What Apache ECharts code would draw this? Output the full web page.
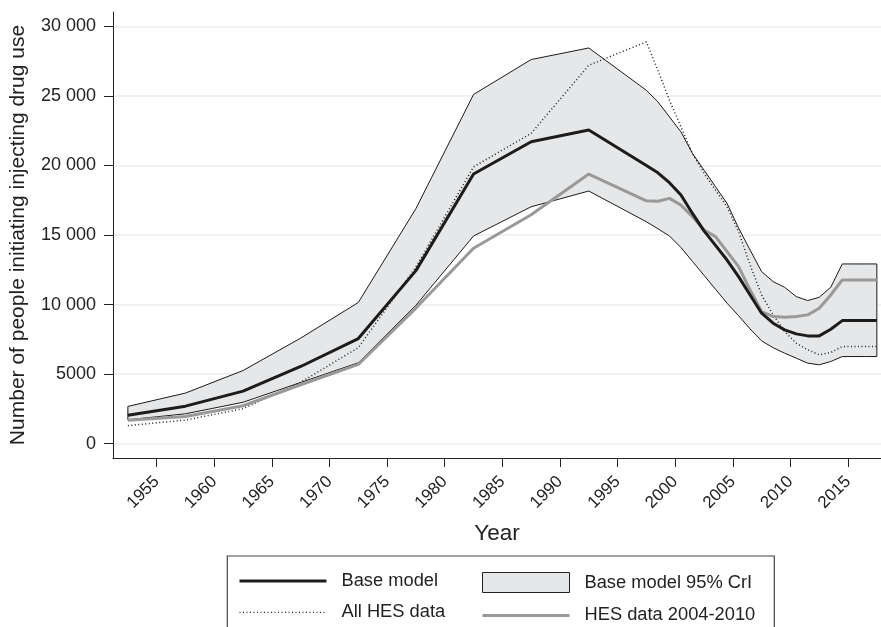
<!DOCTYPE html>
<html>
<head>
<meta charset="utf-8">
<script src="https://cdn.jsdelivr.net/npm/echarts@6/dist/echarts.min.js"></script>
<style>
html,body{margin:0;padding:0;background:#fff;}
#chart{width:881px;height:627px;}
</style>
</head>
<body>
<div id="chart"></div>
<script>
// x positions (mid-year of each period)
var years=[1952.5,1957.5,1962.5,1967.5,1972.5,1977.5,1982.5,1987.5,1992.5,1997.5,
	1998.5,1999.5,2000.5,2001.5,2002.5,2003.5,2004.5,2005.5,2006.5,2007.5,
	2008.5,2009.5,2010.5,2011.5,2012.5,2013.5,2014.5,2015.5,2016.5,2017.5];
var baseModel=[2050,2700,3780,5550,7560,12440,19380,21700,22540,20000,
	19470,18760,17870,16550,15300,14250,13200,12010,10690,9380,
	8660,8180,7895,7750,7750,8230,8850,8850,8850,8850];
var bandUpper=[2680,3640,5260,7590,10150,16900,25100,27610,28440,25400,
	24570,23490,22410,20860,19665,18470,17270,15500,13920,12370,
	11650,11245,10575,10290,10525,11245,12920,12920,12920,12920];
var bandLower=[1720,2150,2980,4400,5820,9950,14930,17030,18160,15950,
	15450,14930,14100,13100,12100,11100,10100,9200,8250,7390,
	6900,6505,6150,5790,5670,5910,6265,6265,6265,6265];
var allHes=[1300,1700,2520,4420,6900,12700,19900,22300,27200,28880,
	26840,24690,22770,20860,19425,18230,17030,15240,12850,10690,
	9260,8060,7225,6745,6390,6555,6985,6985,6985,6985];
var hes0410=[1680,1960,2730,4240,5700,9750,14050,16450,19380,17460,
	17420,17630,17150,16310,15360,14880,13800,12725,11050,9500,
	9140,9090,9140,9260,9740,10690,11770,11770,11770,11770];
var xTicks=[1955,1960,1965,1970,1975,1980,1985,1990,1995,2000,2005,2010,2015];
var yTicks=[0,5000,10000,15000,20000,25000,30000];

function pairs(vals){
	return years.map(function(y,i){return [y,vals[i]];});
}

var font='"Liberation Sans", Arial, sans-serif';
var chart=echarts.init(document.getElementById('chart'));
var legendBase={
	orient:'vertical',
	top:572,
	padding:0,
	height:80,
	itemWidth:87,
	itemHeight:20,
	itemGap:13.4,
	textStyle:{fontSize:18.3,color:'#222',fontFamily:font,padding:[0,0,0,10]}
};
var option={
	animation:false,
	textStyle:{fontFamily:font},
	grid:{left:113,top:12,right:0,bottom:169,outerBoundsMode:'none'},
	xAxis:{
		type:'value',
		min:1951.21,
		max:2017.86,
		name:'Year',
		nameLocation:'middle',
		nameGap:64,
		nameTextStyle:{fontSize:22.5,color:'#222',fontFamily:font},
		axisLine:{onZero:false,lineStyle:{color:'#222',width:1}},
		axisTick:{customValues:xTicks,length:9,lineStyle:{color:'#222'}},
		axisLabel:{
			customValues:xTicks,rotate:45,margin:21,fontSize:17,color:'#222',fontFamily:font,
			formatter:function(v){return String(v);}
		},
		splitLine:{show:false}
	},
	yAxis:{
		type:'value',
		min:-1026,
		max:31026,
		name:'Number of people initiating injecting drug use',
		nameLocation:'middle',
		nameGap:84,
		nameRotate:90,
		nameTextStyle:{fontSize:21,color:'#222',fontFamily:font},
		axisLine:{show:true,onZero:false,lineStyle:{color:'#222',width:1}},
		axisTick:{show:true,customValues:yTicks,length:9,lineStyle:{color:'#222'}},
		axisLabel:{
			customValues:yTicks,margin:17,fontSize:18,color:'#222',fontFamily:font,
			formatter:function(v){
				if(v>=10000){
					var s=String(v);
					return s.slice(0,s.length-3)+' '+s.slice(-3);
				}
				return String(v);
			}
		},
		splitLine:{show:true,lineStyle:{color:'#ececec',width:1.5}}
	},
	graphic:[{
		type:'rect',
		shape:{x:227.3,y:556,width:547,height:100},
		style:{fill:'none',stroke:'#444',lineWidth:1.2},
		silent:true
	}],
	legend:[
		Object.assign({},legendBase,{
			left:238,
			data:[
				{name:'Base model',itemStyle:{opacity:0},lineStyle:{width:3}},
				{name:'All HES data',itemStyle:{opacity:0},lineStyle:{width:1.2}}
			]
		}),
		Object.assign({},legendBase,{
			left:481,
			data:[
				{name:'Base model 95% CrI',icon:'rect',itemStyle:{color:'#e6e7e8',borderColor:'#222',borderWidth:1}},
				{name:'HES data 2004-2010',itemStyle:{opacity:0},lineStyle:{width:3}}
			]
		})
	],
	series:[{
		name:'Base model 95% CrI',
		type:'custom',
		itemStyle:{color:'#e6e7e8'},
		data:[[years[0],bandUpper[0]]],
		renderItem:function(params,api){
			var pts=[];
			for(var i=0;i<years.length;i++){pts.push(api.coord([years[i],bandUpper[i]]));}
			for(var j=years.length-1;j>=0;j--){pts.push(api.coord([years[j],bandLower[j]]));}
			return {
				type:'polygon',
				shape:{points:pts},
				style:{fill:'#e6e7e8',stroke:'#1a1a1a',lineWidth:1}
			};
		}
	},{
		name:'All HES data',
		type:'line',
		symbol:'none',
		data:pairs(allHes),
		lineStyle:{color:'#222',width:1.5,type:[1,2.5]},
		itemStyle:{color:'#222'}
	},{
		name:'HES data 2004-2010',
		type:'line',
		symbol:'none',
		data:pairs(hes0410),
		lineStyle:{color:'#999',width:3},
		itemStyle:{color:'#999'}
	},{
		name:'Base model',
		type:'line',
		symbol:'none',
		data:pairs(baseModel),
		lineStyle:{color:'#1c1c1c',width:3},
		itemStyle:{color:'#1c1c1c'}
	}]
};
chart.setOption(option);
</script>
</body>
</html>
